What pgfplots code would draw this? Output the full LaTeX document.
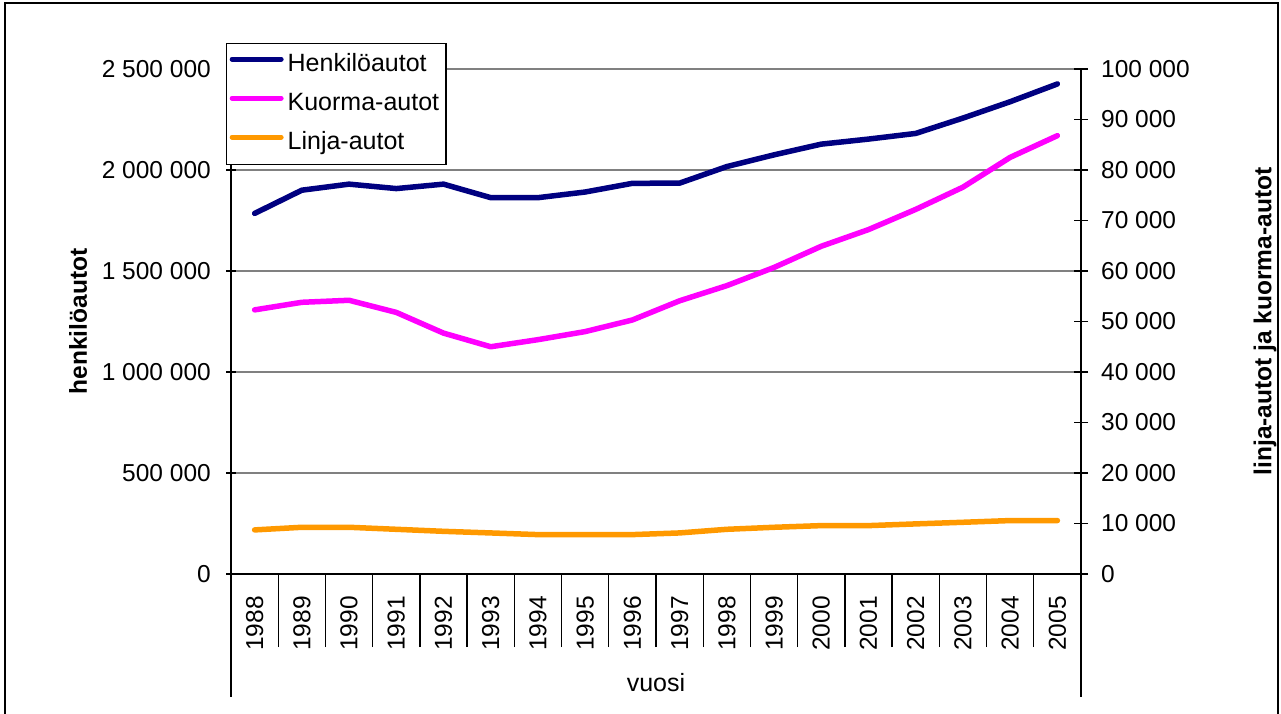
\documentclass[border=0pt]{standalone}
\usepackage{fontspec}
\setmainfont{Liberation Sans}
\usepackage{pgfplots}
\pgfplotsset{compat=1.18}
\definecolor{navyc}{RGB}{0,0,128}
\definecolor{magc}{RGB}{255,0,255}
\definecolor{orac}{RGB}{255,153,0}
\definecolor{gridc}{RGB}{128,128,128}
\newcommand{\tickfont}{\fontsize{24.5pt}{28pt}\selectfont}
\newcommand{\labfont}{\fontsize{24.5pt}{28pt}\selectfont\bfseries}
\newcommand{\legfont}{\fontsize{25pt}{29pt}\selectfont}
\begin{document}
\begin{tikzpicture}
\path[use as bounding box] (0,0) rectangle (1281pt,714pt);
\draw[line width=1.5pt] (5pt,-5pt) -- (5pt,711pt) -- (1278pt,711pt) -- (1278pt,-5pt);
% left axis: henkiloautot
\begin{axis}[
  name=ax1,
  at={(231pt,140pt)}, anchor=south west,
  scale only axis, width=850pt, height=505pt,
  xmin=-0.5, xmax=17.5, ymin=0, ymax=2500000,
  axis x line*=bottom, axis y line*=left,
  axis line style={line width=1.3pt, -},
  xtick=\empty,
  scaled y ticks=false,
  ytick={0,500000,1000000,1500000,2000000,2500000},
  yticklabels={0,500 000,1 000 000,1 500 000,2 000 000,2 500 000},
  yticklabel style={font=\tickfont, inner sep=0pt, anchor=east, xshift=-15pt},
  ymajorgrids, grid style={gridc, line width=1.3pt},
  major tick length=10pt, tick align=center,
  tick style={line width=1.3pt, black},
  ylabel={henkilöautot},
  ylabel style={font=\labfont, at={(axis description cs:-0.18,0.5)}, anchor=center},
]
\addplot[navyc, line width=5.5pt, line cap=round, line join=round] coordinates {
(0,1785000) (1,1900000) (2,1930000) (3,1908000) (4,1930000) (5,1863000)
(6,1863000) (7,1891000) (8,1934000) (9,1935000) (10,2017000) (11,2075000)
(12,2128000) (13,2153000) (14,2181000) (15,2257000) (16,2338000) (17,2426000)};
\end{axis}
% right axis: linja-autot ja kuorma-autot
\begin{axis}[
  name=ax2,
  at={(231pt,140pt)}, anchor=south west,
  scale only axis, width=850pt, height=505pt,
  xmin=-0.5, xmax=17.5, ymin=0, ymax=100000,
  hide x axis, axis y line*=right,
  axis line style={line width=1.3pt, -},
  scaled y ticks=false,
  ytick={0,10000,20000,30000,40000,50000,60000,70000,80000,90000,100000},
  yticklabels={0,10 000,20 000,30 000,40 000,50 000,60 000,70 000,80 000,90 000,100 000},
  yticklabel style={font=\tickfont, inner sep=0pt, anchor=west, xshift=13pt},
  major tick length=14pt, tick align=center,
  tick style={line width=1.3pt, black},
  ylabel={linja-autot ja kuorma-autot},
  ylabel style={font=\labfont, at={(axis description cs:1.2165,0.5)}, anchor=center},
  legend style={at={(axis description cs:-0.00588,1.0515)}, anchor=north west,
    draw=black, line width=1.3pt, fill=white, inner xsep=3pt, inner ysep=10pt,
    font=\legfont, row sep=16pt,
    nodes={inner xsep=4pt, inner ysep=0pt, text height=18pt, text depth=5pt}},
  legend cell align=left,
  legend image code/.code={\draw[#1, line width=5pt, line cap=round] (0pt,6pt) -- (49pt,6pt);},
]
\addlegendimage{navyc}
\addlegendentry{Henkilöautot}
\addplot[magc, line width=5.5pt, line cap=round, line join=round] coordinates {
(0,52300) (1,53800) (2,54200) (3,51800) (4,47700) (5,45000)
(6,46400) (7,48000) (8,50300) (9,54100) (10,57100) (11,60700)
(12,64900) (13,68200) (14,72200) (15,76600) (16,82500) (17,86800)};
\addlegendentry{Kuorma-autot}
\addplot[orac, line width=5.5pt, line cap=round, line join=round] coordinates {
(0,8730) (1,9250) (2,9250) (3,8850) (4,8450) (5,8130)
(6,7800) (7,7800) (8,7800) (9,8130) (10,8850) (11,9250)
(12,9580) (13,9580) (14,9920) (15,10240) (16,10580) (17,10580)};
\addlegendentry{Linja-autot}
\end{axis}
% category axis with separators
\begin{axis}[
  name=ax3,
  at={(231pt,140pt)}, anchor=south west,
  scale only axis, width=850pt, height=505pt,
  xmin=-0.5, xmax=17.5, ymin=0, ymax=1,
  hide y axis, axis x line*=bottom,
  axis line style={line width=1.3pt, -},
  xtick={-0.5,0.5,...,17.5},
  x tick label as interval,
  xticklabels={1988,1989,1990,1991,1992,1993,1994,1995,1996,1997,1998,1999,2000,2001,2002,2003,2004,2005},
  xticklabel style={font=\tickfont, rotate=90, anchor=east, inner sep=0pt, xshift=51pt},
  major tick length=73pt, tick align=outside,
  tick style={line width=1.3pt, black},
  xlabel={vuosi},
  xlabel style={font=\legfont, at={(axis description cs:0.5,0)}, anchor=center, yshift=-109pt},
]
\end{axis}
\draw[line width=1.3pt] (ax1.south west) -- ++(0,-123pt);
\draw[line width=1.3pt] (ax1.south east) -- ++(0,-123pt);
\end{tikzpicture}
\end{document}
